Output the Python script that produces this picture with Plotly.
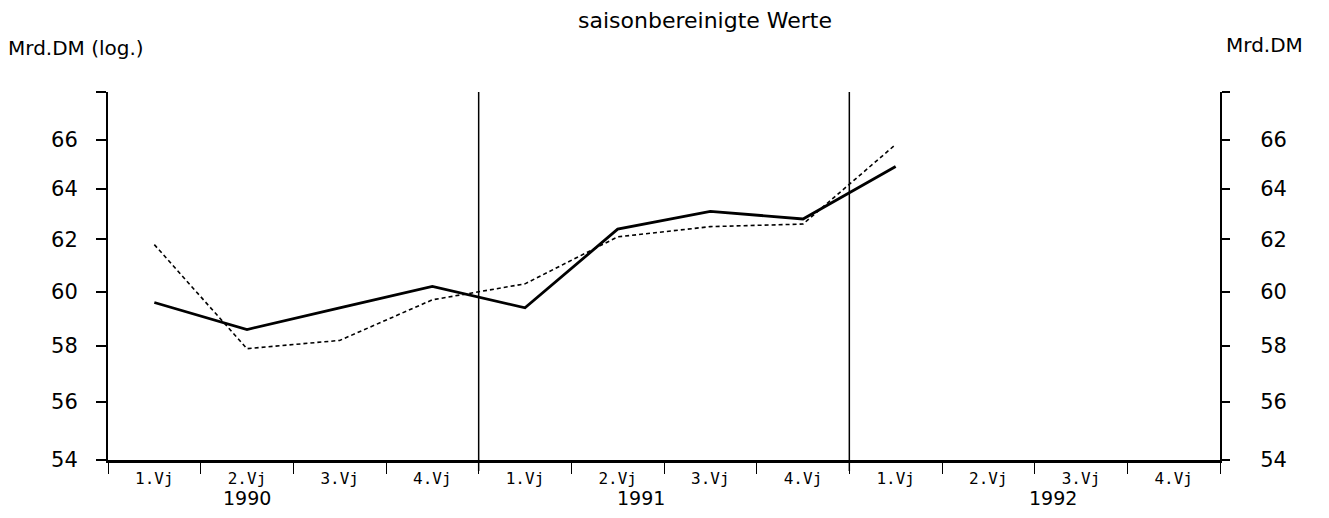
import plotly.graph_objects as go

# Data (quarter values, Mrd. DM)
years = ['1990', '1991', '1992']
quarters = ['1.Vj', '2.Vj', '3.Vj', '4.Vj']
werte_a = [59.6, 58.6, 59.4, 60.2, 59.4, 62.4, 63.1, 62.8, 64.9]  # durchgezogen
werte_b = [61.8, 57.9, 58.2, 59.7, 60.3, 62.1, 62.5, 62.6, 65.8]  # gestrichelt
y_ticks = [54, 56, 58, 60, 62, 64, 66, 68]
y_labels = ['54', '56', '58', '60', '62', '64', '66', '']

n_q = len(years) * len(quarters)
x_pos = list(range(n_q))
q_labels = quarters * len(years)

# page has an 8px body margin, so the figure is a bit smaller and offset
OFF = 8
W, H = 1329 - 2 * OFF, 518 - 2 * OFF
L, T = 108 - OFF, 92 - OFF
R = W - (1220 - OFF)
B = H - (460 - OFF)
pw, ph = W - L - R, H - T - B


def px_x(p):
    return (p - OFF - L) / pw


def px_y(p):
    return (H - B - (p - OFF)) / ph


fig = go.Figure()
fig.add_trace(go.Scatter(
    x=x_pos[:len(werte_a)], y=werte_a, mode='lines',
    line=dict(color='black', width=2.8), showlegend=False
))
fig.add_trace(go.Scatter(
    x=x_pos[:len(werte_b)], y=werte_b, mode='lines',
    line=dict(color='black', width=1.6, dash='4px,3px'), showlegend=False
))
# invisible trace so the right axis is drawn
fig.add_trace(go.Scatter(
    x=[x_pos[0]], y=[werte_a[0]], yaxis='y2', mode='lines',
    line=dict(width=0), showlegend=False, hoverinfo='skip'
))

tick_font = dict(family='DejaVu Sans', size=21, color='black')

# vertical lines between years
for i in range(1, len(years)):
    xb = i * len(quarters) - 0.5
    fig.add_shape(type='line', xref='x', yref='paper', x0=xb, x1=xb,
                  y0=-0.03, y1=1, line=dict(color='black', width=1.5))

# year labels
year_x = [1.0, 5.25, 9.7]
for yr, xx in zip(years, year_x):
    fig.add_annotation(x=xx, y=px_y(510), xref='x', yref='paper', text=yr,
                       showarrow=False, yanchor='bottom', borderpad=0,
                       font=dict(family='DejaVu Sans', size=19, color='black'))

fig.add_annotation(x=px_x(705), y=px_y(20), xref='paper', yref='paper',
                   text='saisonbereinigte Werte', showarrow=False, yanchor='middle',
                   font=dict(family='DejaVu Sans', size=22, color='black'))
fig.add_annotation(x=px_x(6), y=px_y(48), xref='paper', yref='paper',
                   text='Mrd.DM (log.)', showarrow=False, xanchor='left', yanchor='middle',
                   font=dict(family='DejaVu Sans', size=20, color='black'))
fig.add_annotation(x=px_x(1224), y=px_y(45), xref='paper', yref='paper',
                   text='Mrd.DM', showarrow=False, xanchor='left', yanchor='middle',
                   font=dict(family='DejaVu Sans', size=20, color='black'))

fig.update_layout(
    width=W, height=H,
    margin=dict(l=L, r=R, t=T, b=B, autoexpand=False),
    paper_bgcolor='white', plot_bgcolor='white',
    xaxis=dict(
        range=[-0.5, n_q - 0.5], automargin=False,
        tickvals=x_pos, ticktext=q_labels,
        ticks='', showgrid=False, zeroline=False,
        showline=True, linecolor='black', linewidth=2.5,
        tickfont=dict(family='DejaVu Sans Mono', size=16, color='black'),
        ticklabelstandoff=2,
        minor=dict(tickmode='array', tickvals=[v - 0.5 for v in range(n_q + 1)],
                   ticks='outside', ticklen=11, tickcolor='black', tickwidth=1.2,
                   showgrid=False),
    ),
    yaxis=dict(
        type='log', range=[1.7324, 1.8325], automargin=False,
        tickvals=y_ticks, ticktext=y_labels,
        ticks='outside', ticklen=10, tickwidth=1.5, tickcolor='black',
        showline=True, linecolor='black', linewidth=2,
        showgrid=False, zeroline=False, tickfont=tick_font,
        ticklabelstandoff=14,
    ),
    yaxis2=dict(
        type='log', range=[1.7324, 1.8325], overlaying='y', side='right',
        automargin=False,
        tickvals=y_ticks, ticktext=y_labels,
        ticks='outside', ticklen=8, tickwidth=1.5, tickcolor='black',
        showline=True, linecolor='black', linewidth=2,
        showgrid=False, zeroline=False, tickfont=tick_font,
        ticklabelstandoff=26,
    ),
)

fig.write_html("out.html")
